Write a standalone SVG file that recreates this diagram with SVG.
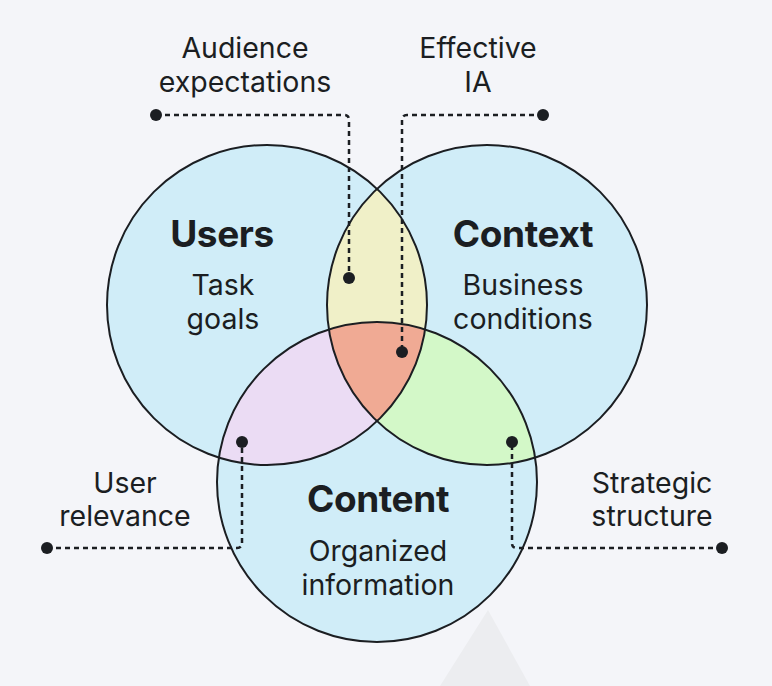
<svg xmlns="http://www.w3.org/2000/svg" width="772" height="686" viewBox="0 0 772 686">
<style>
.t{font-family:Inter,"Noto Sans","Liberation Sans",sans-serif;fill:#1b1e22;text-anchor:middle}
.h{font-size:37px;font-weight:700;letter-spacing:-0.4px}
.s{font-size:28.5px;font-weight:400}
.ring{fill:none;stroke:#1b1e22;stroke-width:2}
.dash{fill:none;stroke:#1b1e22;stroke-width:2.5;stroke-dasharray:5 4}
.dot{fill:#1b1e22}
</style>
<defs>
<clipPath id="cUsers"><circle cx="267" cy="305" r="160"/></clipPath>
<clipPath id="cContext"><circle cx="487" cy="305" r="160"/></clipPath>
<clipPath id="cContent"><circle cx="377" cy="482" r="160"/></clipPath>
</defs>
<rect width="772" height="686" fill="#f4f5f9"/>
<polygon points="488,610 440,686 530,686" fill="#ecedf0"/>
<g id="fills">
<circle cx="267" cy="305" r="160" fill="#d0edf8"/>
<circle cx="487" cy="305" r="160" fill="#d0edf8"/>
<circle cx="377" cy="482" r="160" fill="#d0edf8"/>
<circle cx="267" cy="305" r="160" fill="#f0f0c8" clip-path="url(#cContext)"/>
<circle cx="267" cy="305" r="160" fill="#ebdcf4" clip-path="url(#cContent)"/>
<circle cx="487" cy="305" r="160" fill="#d3f8c8" clip-path="url(#cContent)"/>
<g clip-path="url(#cContext)"><circle cx="267" cy="305" r="160" fill="#f0aa94" clip-path="url(#cContent)"/></g>
</g>
<g id="users">
<circle class="ring" cx="267" cy="305" r="160"/>
<text class="t h" x="222" y="247">Users</text>
<text class="t s" x="223" y="295">Task</text>
<text class="t s" x="223" y="329">goals</text>
</g>
<g id="context">
<circle class="ring" cx="487" cy="305" r="160"/>
<text class="t h" x="523" y="247">Context</text>
<text class="t s" x="523" y="295">Business</text>
<text class="t s" x="523" y="329">conditions</text>
</g>
<g id="content">
<circle class="ring" cx="377" cy="482" r="160"/>
<text class="t h" x="378" y="512">Content</text>
<text class="t s" x="378" y="561">Organized</text>
<text class="t s" x="378" y="595">information</text>
</g>
<g id="label-audience">
<text class="t s" x="245" y="58">Audience</text>
<text class="t s" x="245" y="92">expectations</text>
</g>
<g id="label-effective">
<text class="t s" x="478" y="58">Effective</text>
<text class="t s" x="478" y="92">IA</text>
</g>
<g id="label-user-relevance">
<text class="t s" x="125" y="493">User</text>
<text class="t s" x="125" y="526">relevance</text>
</g>
<g id="label-strategic">
<text class="t s" x="652" y="493">Strategic</text>
<text class="t s" x="652" y="526">structure</text>
</g>
<g id="connectors">
<path class="dash" d="M156,115 H344 Q349,115 349,120 V278"/>
<circle class="dot" cx="156" cy="115" r="6"/>
<circle class="dot" cx="349" cy="278" r="6"/>
<path class="dash" d="M543,115 H407 Q402,115 402,120 V352"/>
<circle class="dot" cx="543" cy="115" r="6"/>
<circle class="dot" cx="402" cy="352" r="6"/>
<path class="dash" d="M47,548 H237 Q242,548 242,543 V442"/>
<circle class="dot" cx="47" cy="548" r="6"/>
<circle class="dot" cx="242" cy="442" r="6"/>
<path class="dash" d="M722,548 H517 Q512,548 512,543 V442"/>
<circle class="dot" cx="722" cy="548" r="6"/>
<circle class="dot" cx="512" cy="442" r="6"/>
</g>
</svg>
